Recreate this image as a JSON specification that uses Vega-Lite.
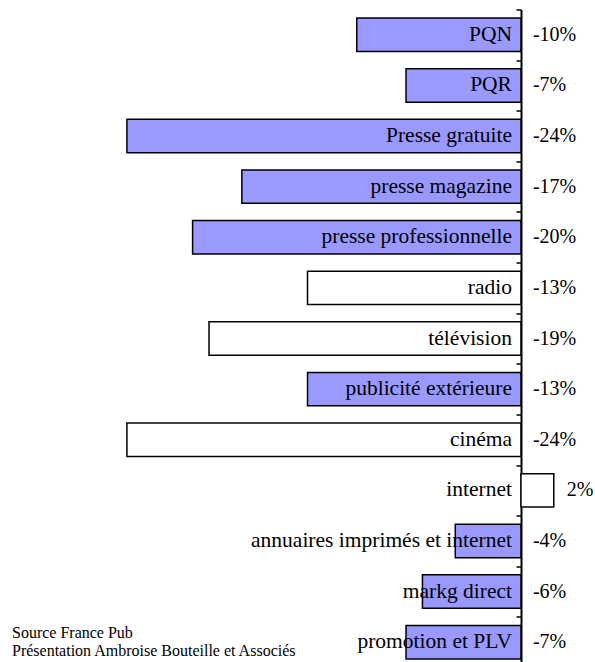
{
  "$schema": "https://vega.github.io/schema/vega-lite/v6.json",
  "width": 595,
  "height": 658,
  "autosize": {"type": "none"},
  "padding": {"top": 9.5, "left": 0, "right": 0, "bottom": 0},
  "background": "white",
  "config": {
    "view": {"stroke": null},
    "font": "Liberation Serif",
    "locale": {"number": {"decimal": ".", "thousands": ",", "grouping": [3], "currency": ["", "€"], "minus": "-"}}
  },
  "data": {
    "values": [
      {"media": "PQN", "evolution": -0.10, "groupe": "oui"},
      {"media": "PQR", "evolution": -0.07, "groupe": "oui"},
      {"media": "Presse gratuite", "evolution": -0.24, "groupe": "oui"},
      {"media": "presse magazine", "evolution": -0.17, "groupe": "oui"},
      {"media": "presse professionnelle", "evolution": -0.20, "groupe": "oui"},
      {"media": "radio", "evolution": -0.13, "groupe": "non"},
      {"media": "télévision", "evolution": -0.19, "groupe": "non"},
      {"media": "publicité extérieure", "evolution": -0.13, "groupe": "oui"},
      {"media": "cinéma", "evolution": -0.24, "groupe": "non"},
      {"media": "internet", "evolution": 0.02, "groupe": "non"},
      {"media": "annuaires imprimés et internet", "evolution": -0.04, "groupe": "oui"},
      {"media": "markg direct", "evolution": -0.06, "groupe": "oui"},
      {"media": "promotion et PLV", "evolution": -0.07, "groupe": "oui"}
    ]
  },
  "encoding": {
    "y": {
      "field": "media",
      "type": "nominal",
      "sort": null,
      "scale": {"paddingInner": 0, "paddingOuter": 0},
      "axis": {
        "orient": "left",
        "offset": -521,
        "title": null,
        "labels": false,
        "grid": false,
        "tickBand": "extent",
        "tickSize": 5,
        "tickWidth": 1.5,
        "tickColor": "black",
        "domainColor": "black",
        "domainWidth": 2
      }
    }
  },
  "layer": [
    {
      "mark": {"type": "bar", "height": {"band": 0.66}, "stroke": "black", "strokeWidth": 1.5},
      "encoding": {
        "x": {
          "field": "evolution",
          "type": "quantitative",
          "scale": {"domain": [-0.3173, 0.0451], "zero": false, "nice": false},
          "axis": null
        },
        "fill": {
          "field": "groupe",
          "type": "nominal",
          "scale": {"domain": ["oui", "non"], "range": ["#9999FF", "#FFFFFF"]},
          "legend": null
        }
      }
    },
    {
      "mark": {"type": "text", "align": "right", "baseline": "middle", "dx": -9, "fontSize": 21.5, "color": "black"},
      "encoding": {
        "x": {"datum": 0, "type": "quantitative"},
        "text": {"field": "media"}
      }
    },
    {
      "transform": [{"filter": "datum.evolution < 0"}],
      "mark": {"type": "text", "align": "left", "baseline": "middle", "dx": 12, "fontSize": 20, "color": "black"},
      "encoding": {
        "x": {"datum": 0, "type": "quantitative"},
        "text": {"field": "evolution", "type": "quantitative", "format": ".0%"}
      }
    },
    {
      "transform": [{"filter": "datum.evolution >= 0"}],
      "mark": {"type": "text", "align": "left", "baseline": "middle", "dx": 13, "fontSize": 20, "color": "black"},
      "encoding": {
        "x": {"field": "evolution", "type": "quantitative"},
        "text": {"field": "evolution", "type": "quantitative", "format": ".0%"}
      }
    },
    {
      "data": {"values": [{"media": "promotion et PLV"}]},
      "mark": {"type": "text", "align": "left", "baseline": "middle", "dy": -9, "fontSize": 16, "lineHeight": 18, "color": "black"},
      "encoding": {
        "x": {"datum": -0.310, "type": "quantitative"},
        "text": {"value": ["Source France Pub", "Présentation Ambroise Bouteille et Associés"]}
      }
    }
  ]
}
